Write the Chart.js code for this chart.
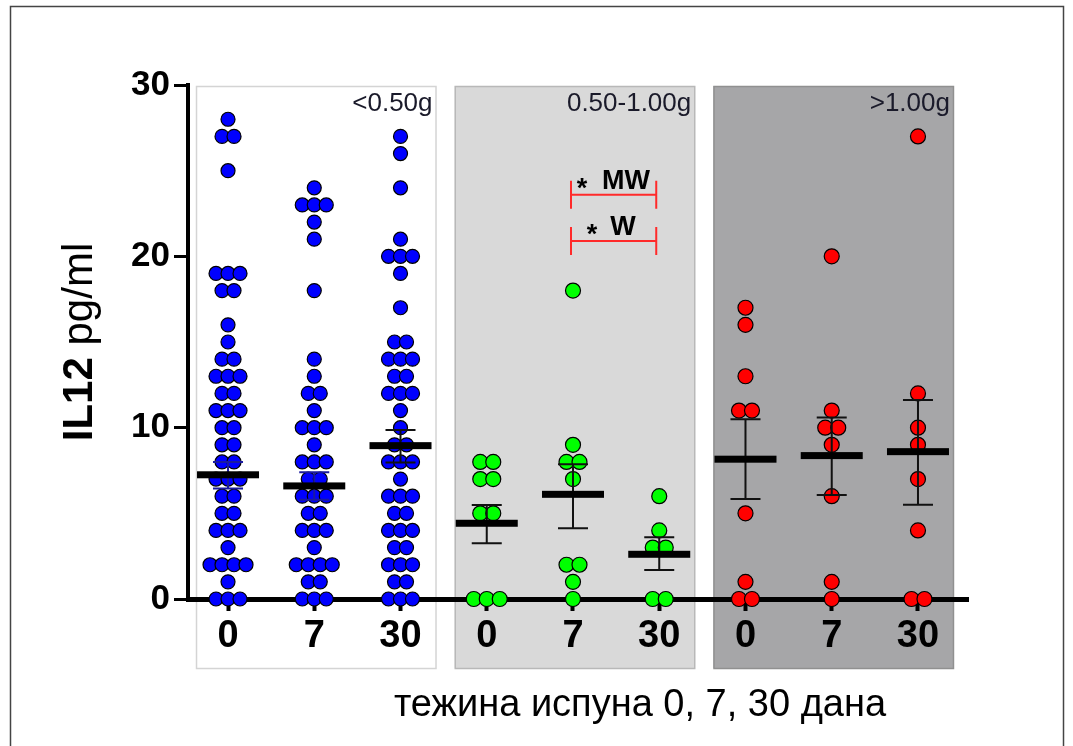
<!DOCTYPE html>
<html>
<head>
<meta charset="utf-8">
<script src="https://cdn.jsdelivr.net/npm/chart.js"></script>
<style>
  html, body { margin: 0; background: #fff; }
  canvas { display: block; }
</style>
</head>
<body>
<canvas id="il12" width="1073" height="746" style="width:1073px;height:746px"></canvas>
<script>
// IL12 by filling weight, days 0 / 7 / 30
const dayLabels = ['0', '7', '30', '0', '7', '30', '0', '7', '30'];
const weightClasses = ['<0.50g', '0.50-1.00g', '>1.00g'];
const yTicks = [0, 10, 20, 30];

// <0.50g
const lowDay0 = [28, 27, 27, 25, 19, 19, 19, 18, 18, 16, 15, 14, 14, 13, 13, 13, 12, 12, 11, 11, 11, 10, 10, 9, 9, 8, 8, 7, 7, 7, 6, 6, 5, 5, 4, 4, 4, 3, 2, 2, 2, 2, 1, 0, 0, 0];
const lowDay7 = [24, 23, 23, 23, 22, 21, 18, 14, 13, 12, 12, 11, 10, 10, 10, 9, 8, 8, 8, 7, 7, 6, 6, 6, 5, 5, 4, 4, 4, 3, 2, 2, 2, 2, 1, 1, 0, 0, 0];
const lowDay30 = [27, 26, 24, 21, 20, 20, 20, 19, 17, 15, 15, 14, 14, 14, 13, 13, 12, 12, 12, 11, 10, 9, 9, 8, 8, 8, 7, 6, 6, 6, 5, 5, 4, 4, 4, 3, 3, 2, 2, 2, 1, 1, 0, 0, 0];
// 0.50-1.00g
const midDay0 = [8, 8, 7, 7, 5, 5, 0, 0, 0];
const midDay7 = [18, 9, 8, 8, 7, 2, 2, 1, 0];
const midDay30 = [6, 4, 3, 3, 0, 0];
// >1.00g
const highDay0 = [17, 16, 13, 11, 11, 5, 1, 0, 0];
const highDay7 = [20, 11, 10, 10, 9, 6, 1, 0];
const highDay30 = [27, 12, 10, 9, 7, 4, 0, 0];

// mean and SEM limits
const groupMeans = [7.25, 6.6, 8.95, 4.42, 6.11, 2.61, 8.16, 8.37, 8.6];
const semUpper = [8.0, 7.4, 9.87, 5.49, 7.86, 3.6, 10.49, 10.59, 11.62];
const semLower = [6.45, 5.8, 7.96, 3.25, 4.13, 1.69, 5.84, 6.07, 5.5];

const groups = [lowDay0, lowDay7, lowDay30, midDay0, midDay7, midDay30, highDay0, highDay7, highDay30];

const FONT = '"Liberation Sans", Arial, sans-serif';
const dotColors = ['#0000ff', '#00ff00', '#ff0000'];
const dotRadius = [7, 7.5, 7.5];
const panelStyles = [
  { fill: '#ffffff', edge: '#d4d4d4' },
  { fill: '#d9d9d9', edge: '#b8b8b8' },
  { fill: '#a6a6a8', edge: '#909090' }
];
const xMin = -0.464, xMax = 8.58;
const pxPerX = 780 / (xMax - xMin);

// spread equal values side by side
function swarm(values, center, step) {
  const counts = {}, seen = {};
  values.forEach(v => { counts[v] = (counts[v] || 0) + 1; });
  return values.map(v => {
    const k = seen[v] || 0;
    seen[v] = k + 1;
    const off = (k - (counts[v] - 1) / 2) * step / pxPerX;
    return { x: center + off, y: v };
  });
}

const decor = {
  id: 'decor',
  beforeDraw(chart) {
    const { ctx, chartArea: a, scales: { x, y } } = chart;
    ctx.save();
    ctx.fillStyle = '#fff';
    ctx.fillRect(0, 0, chart.width, chart.height);
    ctx.strokeStyle = '#444';
    ctx.lineWidth = 1.5;
    ctx.strokeRect(10.5, 6.5, 1053, 800);
    panelStyles.forEach((p, i) => {
      const l = x.getPixelForValue(i * 3) - 32;
      const r = x.getPixelForValue(i * 3 + 2) + 35;
      const t = y.getPixelForValue(30) + 1;
      const b = a.bottom + 69;
      ctx.fillStyle = p.fill;
      ctx.fillRect(l, t, r - l, b - t);
      ctx.strokeStyle = p.edge;
      ctx.lineWidth = 1.5;
      ctx.strokeRect(l + 0.5, t + 0.5, r - l, b - t);
    });
    ctx.restore();
  },
  afterDatasetsDraw(chart) {
    const { ctx, scales: { x, y } } = chart;
    ctx.save();
    groupMeans.forEach((m, i) => {
      const cx = x.getPixelForValue(i);
      const hi = y.getPixelForValue(semUpper[i]);
      const lo = y.getPixelForValue(semLower[i]);
      ctx.strokeStyle = i < 2 ? '#1a1aa0' : '#111';
      ctx.lineWidth = 2;
      ctx.beginPath();
      ctx.moveTo(cx, hi); ctx.lineTo(cx, lo);
      ctx.moveTo(cx - 15, hi); ctx.lineTo(cx + 15, hi);
      ctx.moveTo(cx - 15, lo); ctx.lineTo(cx + 15, lo);
      ctx.stroke();
      ctx.fillStyle = '#000';
      ctx.fillRect(cx - 31, y.getPixelForValue(m) - 3.5, 62, 7);
    });
    ctx.restore();
  },
  afterDraw(chart) {
    const { ctx, scales: { x, y } } = chart;
    ctx.save();
    // weight class labels
    ctx.fillStyle = '#1a1a2a';
    ctx.font = '26px ' + FONT;
    ctx.textAlign = 'right';
    ctx.textBaseline = 'alphabetic';
    weightClasses.forEach((t, i) => {
      ctx.fillText(t, x.getPixelForValue(i * 3 + 2) + 32, y.getPixelForValue(30) + 26);
    });
    // significance brackets between day 7 and day 30 in 0.50-1.00g
    const bl = x.getPixelForValue(4) - 2, br = x.getPixelForValue(5) - 3;
    [{ v: 23.6, star: 582, word: 'MW', wx: 626 }, { v: 20.9, star: 592, word: 'W', wx: 623 }].forEach(b => {
      const by = y.getPixelForValue(b.v);
      ctx.strokeStyle = '#ff2a2a';
      ctx.lineWidth = 2;
      ctx.beginPath();
      ctx.moveTo(bl, by); ctx.lineTo(br, by);
      ctx.moveTo(bl, by - 14); ctx.lineTo(bl, by + 14);
      ctx.moveTo(br, by - 14); ctx.lineTo(br, by + 14);
      ctx.stroke();
      ctx.fillStyle = '#000';
      ctx.font = 'bold 27px ' + FONT;
      ctx.textAlign = 'center';
      ctx.fillText('*', b.star, by + 2);
      ctx.fillText(b.word, b.wx, by - 6);
    });
    // y title
    ctx.translate(92, 342);
    ctx.rotate(-Math.PI / 2);
    ctx.font = 'bold 42px ' + FONT;
    const w1 = ctx.measureText('IL12').width;
    ctx.font = '42px ' + FONT;
    const w2 = ctx.measureText(' pg/ml').width;
    ctx.textAlign = 'left';
    ctx.fillStyle = '#000';
    ctx.font = 'bold 42px ' + FONT;
    ctx.fillText('IL12', -(w1 + w2) / 2, 0);
    ctx.font = '42px ' + FONT;
    ctx.fillText(' pg/ml', -(w1 + w2) / 2 + w1, 0);
    ctx.setTransform(1, 0, 0, 1, 0, 0);
    // x title
    ctx.font = '38px ' + FONT;
    ctx.textAlign = 'center';
    ctx.fillText('тежина испуна 0, 7, 30 дана', 640, 716);
    ctx.restore();
  }
};

new Chart(document.getElementById('il12'), {
  type: 'scatter',
  data: {
    datasets: groups.map((vals, i) => ({
      data: swarm(vals, i, i < 3 ? 12 : 13),
      backgroundColor: dotColors[Math.floor(i / 3)],
      borderColor: '#000',
      borderWidth: 1.2,
      pointRadius: dotRadius[Math.floor(i / 3)],
      pointHoverRadius: dotRadius[Math.floor(i / 3)],
      clip: false
    }))
  },
  options: {
    responsive: false,
    animation: false,
    layout: { padding: { top: 85, right: 105, left: 0, bottom: 0 } },
    scales: {
      x: {
        type: 'linear',
        min: xMin,
        max: xMax,
        afterBuildTicks: s => { s.ticks = dayLabels.map((_, i) => ({ value: i })); },
        afterFit: s => { s.height = 147; },
        grid: { drawOnChartArea: false, drawTicks: true, tickLength: 12, tickWidth: 4, tickColor: '#000' },
        border: { display: true, width: 5, color: '#000' },
        ticks: {
          autoSkip: false,
          maxRotation: 0,
          padding: 3,
          color: '#000',
          font: { family: FONT, size: 38, weight: 'bold' },
          callback: (v, i) => dayLabels[i]
        }
      },
      y: {
        min: 0,
        max: 30,
        afterBuildTicks: s => { s.ticks = yTicks.map(v => ({ value: v })); },
        afterFit: s => { s.width = 188; },
        grid: { drawOnChartArea: false, drawTicks: true, tickLength: 14, tickWidth: 3, tickColor: '#000' },
        border: { display: true, width: 4, color: '#000' },
        ticks: {
          padding: 4,
          color: '#000',
          font: { family: FONT, size: 35, weight: 'bold' }
        }
      }
    },
    plugins: {
      legend: { display: false },
      tooltip: { enabled: false }
    }
  },
  plugins: [decor]
});
</script>
</body>
</html>
